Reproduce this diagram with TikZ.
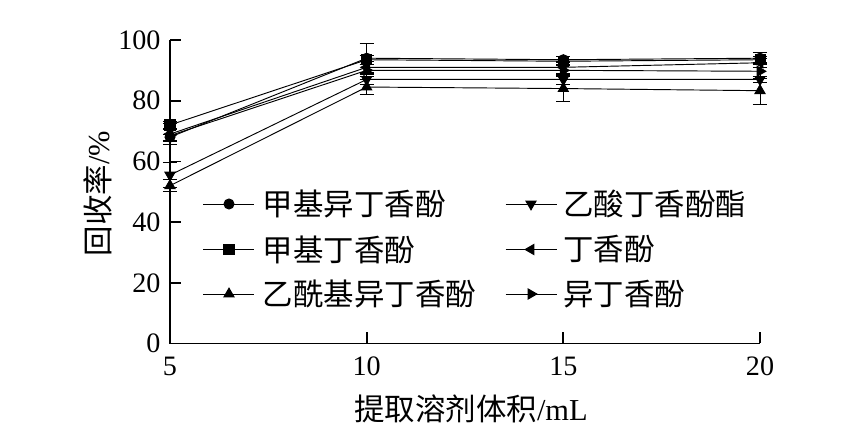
\documentclass[tikz,border=0pt]{standalone}
\usepackage{fontspec}
\setmainfont{Liberation Serif}
\newfontfamily\cjk{Noto Sans CJK SC}
\usetikzlibrary{plotmarks}

\tikzset{
  axisline/.style={line width=1.5pt, black},
  serie/.style={line width=0.8pt, black, mark size=4.3pt, mark options={solid, fill=black}},
  errbar/.style={line width=0.8pt, black},
  ticklbl/.style={font=\fontsize{24}{28}\selectfont, inner sep=0pt},
  leglbl/.style={font=\fontsize{26}{30}\selectfont\cjk, anchor=west, inner sep=0pt},
  axlbl/.style={font=\fontsize{26}{30}\selectfont, inner sep=0pt},
}

\begin{document}
\begin{tikzpicture}
\useasboundingbox (0,0) rectangle (25.38,12.99);

\begin{scope}[shift={(-0.8,2.685)}, x=1.18cm, y=0.09105cm]
% error bars
\foreach \xv/\yv/\ev in {5/52/2, 10/84.5/2.5, 15/84/4.3, 20/83.3/4.7,
                         5/55.5/4, 10/87/1.5, 15/87/1.5, 20/87/1,
                         5/72/1, 10/93.5/1.5, 15/93/1.5, 20/93.5/1,
                         5/68/1, 10/94/4.7, 15/93.5/1, 20/94/2,
                         5/69/3.5, 10/91/2, 15/91/2, 20/92.5/1.5,
                         5/68.5/2, 10/90/2, 15/90/2, 20/89.7/2.5}
  \draw[errbar] (\xv,\yv-\ev) -- (\xv,\yv+\ev)
                (\xv,\yv-\ev) ++(-0.18,0) -- ++(0.36,0)
                (\xv,\yv+\ev) ++(-0.18,0) -- ++(0.36,0);

% series
\path[draw,serie] plot[mark=triangle*, mark size=5pt] coordinates {(5,52) (10,84.5) (15,84) (20,83.3)};
\path[draw,serie] plot[mark=triangle*, mark size=5pt, mark options={rotate=180}] coordinates {(5,55.5) (10,87) (15,87) (20,87)};
\path[draw,serie] plot[mark=square*] coordinates {(5,72) (10,93.5) (15,93) (20,93.5)};
\path[draw,serie] plot[mark=*] coordinates {(5,68) (10,94) (15,93.5) (20,94)};
\path[draw,serie] plot[mark=triangle*, mark size=5pt, mark options={rotate=90}] coordinates {(5,69) (10,91) (15,91) (20,92.5)};
\path[draw,serie] plot[mark=triangle*, mark size=5pt, mark options={rotate=-90}] coordinates {(5,68.5) (10,90) (15,90) (20,89.7)};

% axes
\draw[axisline] (5,100) -- (5,0) -- (20,0);
\foreach \yv in {20,40,...,100}
  \draw[axisline] (5,\yv) -- ++(0.33cm,0);
\foreach \xv in {10,15,20}
  \draw[axisline] (\xv,0) -- ++(0,0.33cm);
\foreach \yv in {0,20,...,100}
  \node[ticklbl, anchor=east] (y\yv) at ([xshift=-0.28cm]5,\yv) {\yv};
\foreach \xv in {5,10,15,20}
  \node[ticklbl] (x\xv) at ([yshift=-0.675cm]\xv,0) {\xv};
\end{scope}

% axis titles
\node[axlbl, anchor=base] (xtitle) at (14.13,0.39) {{\cjk 提取溶剂体积}/mL};
\node[axlbl, rotate=90] (ytitle) at (2.94,7.185) {{\cjk 回收率}/\%};

% legend
\draw[serie] (6.09,6.87) -- (7.61,6.87) plot[mark=*] coordinates {(6.87,6.87)};
\node[leglbl] (l1) at (7.88,6.87) {甲基异丁香酚};
\draw[serie] (6.09,5.505) -- (7.61,5.505) plot[mark=square*] coordinates {(6.87,5.505)};
\node[leglbl] (l2) at (7.88,5.505) {甲基丁香酚};
\draw[serie] (6.09,4.17) -- (7.61,4.17) plot[mark=triangle*, mark size=5pt] coordinates {(6.87,4.17)};
\node[leglbl] (l3) at (7.88,4.17) {乙酰基异丁香酚};
\draw[serie] (15.17,6.87) -- (16.71,6.87) plot[mark=triangle*, mark size=5pt, mark options={rotate=180}] coordinates {(15.93,6.87)};
\node[leglbl] (l4) at (16.89,6.87) {乙酸丁香酚酯};
\draw[serie] (15.17,5.505) -- (16.71,5.505) plot[mark=triangle*, mark size=5pt, mark options={rotate=90}] coordinates {(15.93,5.505)};
\node[leglbl] (l5) at (16.89,5.505) {丁香酚};
\draw[serie] (15.17,4.17) -- (16.71,4.17) plot[mark=triangle*, mark size=5pt, mark options={rotate=-90}] coordinates {(15.93,4.17)};
\node[leglbl] (l6) at (16.89,4.17) {异丁香酚};
\end{tikzpicture}
\end{document}
